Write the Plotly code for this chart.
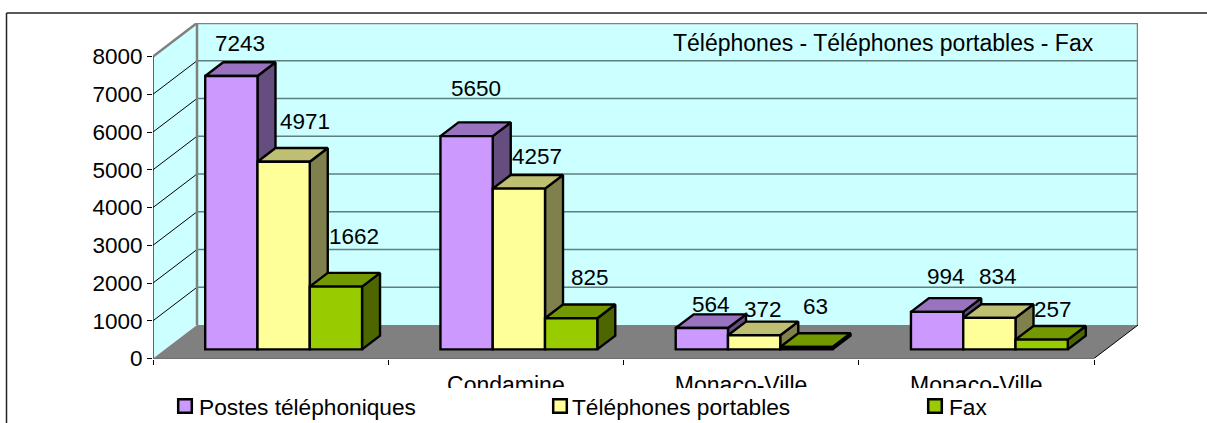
import plotly.graph_objects as go

categories = ["", "Condamine", "Monaco-Ville", "Monaco-Ville"]
postes = [7243, 5650, 564, 994]
portables = [4971, 4257, 372, 834]
fax = [1662, 825, 63, 257]
series_names = ["Postes téléphoniques", "Téléphones portables", "Fax"]
y_ticks = [0, 1000, 2000, 3000, 4000, 5000, 6000, 7000, 8000]
title_text = "Téléphones - Téléphones portables - Fax"

W, H = 1207, 423
PLOT_L, PLOT_R, AX_Y, AX_TOP = 153, 1138, 358.5, 56.5
CAT_PX = 235.25
VAL_PX = (AX_Y - AX_TOP) / 8000
DX = 44 / CAT_PX
DY = 33.5 / VAL_PX
FRONT_X, FRONT_Y, BAR_DEPTH = 13 / 44, 12 / 44, 18 / 44
BAR_W = 2 / 9
x_range = [-0.5, 3.5 + DX]
y_range = [0, 8000 + DY]
FONT = dict(family="Liberation Sans, Arial, sans-serif", size=23, color="#000000")
DIGITS = dict(family="Liberation Sans, Arial, sans-serif", size=22.5, color="#000000")
LEGEND_FONT = dict(family="Liberation Sans, Arial, sans-serif", size=22.7, color="#000000")

fills = ["#CC99FF", "#FFFF99", "#99CC00"]
tops = ["#9A73C0", "#BFBF73", "#739900"]
sides = ["#664D80", "#80804D", "#4D6600"]
# label displacement from each bar's top-centre, in pixels (right, up)
label_shift = [
    [(9, 32), (9, 48), (9, 24), (9, 35)],
    [(21, 40), (18, 32), (9, 26), (9, 41)],
    [(18, 50), (19, 41), (9, 40), (11, 30)],
]
# legend: swatch left edge and text left edge in pixels
legend_px = [(178.2, 197), (553.2, 569.5), (928.2, 946.5)]

fig = go.Figure()


def poly(xs, ys, fill, line="#000000", width=2.4):
    fig.add_trace(go.Scatter(x=xs, y=ys, mode="lines", fill="toself", fillcolor=fill,
                             line=dict(color=line, width=width), hoverinfo="skip",
                             showlegend=False, xaxis="x", yaxis="y"))


def lines(segments, color, width):
    xs, ys = [], []
    for a, b in segments:
        xs += [a[0], b[0], None]
        ys += [a[1], b[1], None]
    fig.add_trace(go.Scatter(x=xs, y=ys, mode="lines", line=dict(color=color, width=width),
                             hoverinfo="skip", showlegend=False, xaxis="x", yaxis="y"))


x0, x1 = -0.5, 3.5
# walls and floor
poly([x0 + DX, x1 + DX, x1 + DX, x0 + DX, x0 + DX], [DY, DY, 8000 + DY, 8000 + DY, DY], "#CCFFFF", "rgba(0,0,0,0)", 0)
poly([x0, x0 + DX, x0 + DX, x0, x0], [0, DY, 8000 + DY, 8000, 0], "#CCFFFF", "rgba(0,0,0,0)", 0)
poly([x0, x1, x1 + DX, x0 + DX, x0], [0, 0, DY, DY, 0], "#808080", "rgba(0,0,0,0)", 0)
lines([((x0 + DX, v + DY), (x1 + DX, v + DY)) for v in y_ticks[1:-1]], "#5F7F7F", 1.5)
lines([((x0, v), (x0 + DX, v + DY)) for v in y_ticks[1:-1]], "#000000", 1)
lines([((x0 + DX, DY), (x0 + DX, 8000 + DY)),
       ((x0 + DX, 8000 + DY), (x1 + DX, 8000 + DY)),
       ((x1 + DX, 8000 + DY), (x1 + DX, DY)),
       ((x0, 8000), (x0 + DX, 8000 + DY))], "#808080", 2.5)
lines([((x1, 0), (x1 + DX, DY))], "#000000", 1)
lines([((x0, 0), (x0, 8000)), ((x0, 0), (x1, 0))], "#000000", 1.2)

# bars: tops and sides computed from the values, front faces as real bars
all_series = [postes, portables, fax]
base = FRONT_Y * DY
annotations = []
for s, vals in enumerate(all_series):
    centers = [i + FRONT_X * DX + (s - 1) * BAR_W for i in range(len(vals))]
    for c, v, (sx, sy) in zip(centers, vals, label_shift[s]):
        l, r = c - BAR_W / 2, c + BAR_W / 2
        t = base + v
        ddx, ddy = BAR_DEPTH * DX, BAR_DEPTH * DY
        poly([r, r + ddx, r + ddx, r, r], [base, base + ddy, t + ddy, t, base], sides[s])
        poly([l, r, r + ddx, l + ddx, l], [t, t, t + ddy, t + ddy, t], tops[s])
        annotations.append(dict(x=c, y=t, xref="x2", yref="y2", text=str(v), showarrow=False,
                                xshift=sx, yshift=sy, xanchor="center", yanchor="middle", font=DIGITS))
for s, vals in enumerate(all_series):
    centers = [i + FRONT_X * DX + (s - 1) * BAR_W for i in range(len(vals))]
    fig.add_trace(go.Bar(x=centers, y=vals, base=base, width=BAR_W, name=series_names[s],
                         marker=dict(color=fills[s], line=dict(color="#000000", width=2.4)),
                         xaxis="x2", yaxis="y2", hoverinfo="skip", showlegend=False))

dom_x = [PLOT_L / W, PLOT_R / W]
dom_y = [1 - AX_Y / H, 1 - (AX_TOP - 33.5) / H]
annotations.append(dict(x=1096 / W, y=1 - 43 / H, xref="paper", yref="paper", text=title_text,
                        showarrow=False, xanchor="right", yanchor="middle", font=FONT))

shapes = [
    dict(type="rect", xref="paper", yref="paper", x0=0, x1=1, y0=0, y1=1 - 388 / H,
         fillcolor="#FFFFFF", line=dict(width=0), layer="above"),
    dict(type="line", xref="paper", yref="paper", x0=6.5 / W, x1=1, y0=1 - 13 / H, y1=1 - 13 / H,
         line=dict(color="#222222", width=1.5), layer="above"),
    dict(type="line", xref="paper", yref="paper", x0=6.5 / W, x1=6.5 / W, y0=0, y1=1 - 13 / H,
         line=dict(color="#222222", width=1.5), layer="above"),
]
for (sw, tx), name, col in zip(legend_px, series_names, fills):
    shapes.append(dict(type="rect", xref="paper", yref="paper", x0=sw / W, x1=(sw + 13.6) / W,
                       y0=1 - 412.8 / H, y1=1 - 399.2 / H, fillcolor=col,
                       line=dict(color="#000000", width=2.5), layer="above"))
    annotations.append(dict(x=tx / W, y=1 - 406.5 / H, xref="paper", yref="paper", text=name,
                            showarrow=False, xanchor="left", yanchor="middle", font=LEGEND_FONT))

fig.update_layout(
    width=W, height=H, margin=dict(l=0, r=0, t=0, b=0, autoexpand=False),
    paper_bgcolor="#FFFFFF", plot_bgcolor="rgba(0,0,0,0)",
    font=FONT, showlegend=False, barmode="overlay",
    xaxis=dict(domain=dom_x, range=x_range, tickmode="array",
               tickvals=list(range(4)), ticktext=categories, ticks="", showgrid=False,
               zeroline=False, showline=False, tickfont=FONT, ticklabelstandoff=10,
               minor=dict(tickmode="array", tickvals=[-0.5, 0.5, 1.5, 2.5, 3.5], ticks="outside",
                          ticklen=5, tickwidth=1, tickcolor="#000000", showgrid=False)),
    yaxis=dict(domain=dom_y, range=y_range, tickmode="array", tickvals=y_ticks,
               ticktext=[str(v) for v in y_ticks], ticks="outside", ticklen=5, tickwidth=1,
               tickcolor="#000000", showgrid=False, zeroline=False, showline=False, tickfont=DIGITS),
    xaxis2=dict(domain=dom_x, range=x_range, overlaying="x", visible=False),
    yaxis2=dict(domain=dom_y, range=y_range, overlaying="y", visible=False),
    annotations=annotations,
    shapes=shapes,
)

fig.write_html("out.html", config=dict(displayModeBar=False),
               post_script="document.body.style.margin='0';document.body.style.overflow='hidden';")
